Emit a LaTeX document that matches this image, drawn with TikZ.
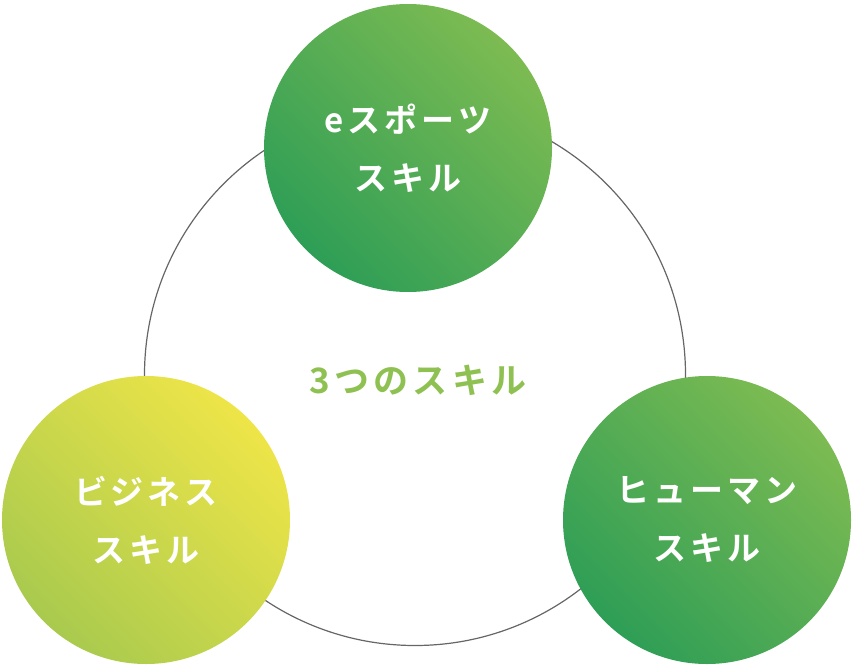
\documentclass[tikz,border=0pt]{standalone}
\usepackage{fontspec}
\newfontfamily\jp[LetterSpace=12]{Noto Sans CJK JP Bold}
\usetikzlibrary{positioning}
\definecolor{dkgreen}{HTML}{2E9E56}
\definecolor{mdgreen}{HTML}{7DBB52}
\definecolor{ltgreen}{HTML}{A9CA4E}
\definecolor{yellow1}{HTML}{EEE548}
\begin{document}
\begin{tikzpicture}[x=1pt, y=-1pt, inner sep=0pt, outer sep=0pt,
  skill/.style={circle, minimum size=288pt,
    text=white, align=center, font=\jp\fontsize{33}{58}\selectfont},
  ring/.style={circle, draw=black!60, line width=1.2pt, minimum size=541pt}]
\useasboundingbox (0,0) rectangle (853,666);
\node[ring] (R) at (415,375) {};
\node[skill, left color=mdgreen, right color=dkgreen, shading angle=-45] (E) at (408,148) {eスポーツ\\スキル};
\node[skill, left color=yellow1, right color=ltgreen, shading angle=-45] (B) at (146,520) {ビジネス\\スキル};
\node[skill, left color=mdgreen, right color=dkgreen, shading angle=-45] (H) at (707,520) {ヒューマン\\スキル};
\node[text=mdgreen!85!yellow1, font=\jp\fontsize{35}{40}\selectfont] (T) at (418,380) {3つのスキル};
\end{tikzpicture}
\end{document}
